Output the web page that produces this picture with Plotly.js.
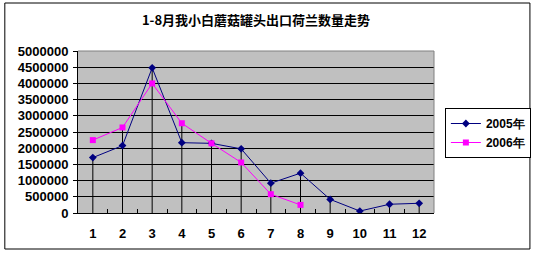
<!DOCTYPE html>
<html><head><meta charset="utf-8">
<script src="https://cdn.plot.ly/plotly-3.0.1.min.js"></script>
<style>html,body{margin:0;padding:0;background:#fff}</style>
</head><body><div id="chart" style="width:543px;height:257px"></div>
<script>
var months = ['1','2','3','4','5','6','7','8','9','10','11','12'];
var s2005 = [1710000, 2080000, 4480000, 2170000, 2150000, 1980000, 920000, 1230000, 420000, 60000, 270000, 300000];
var months2006 = ['1','2','3','4','5','6','7','8'];
var s2006 = [2250000, 2640000, 4000000, 2770000, 2150000, 1560000, 580000, 250000];
var yTicks = [0,500000,1000000,1500000,2000000,2500000,3000000,3500000,4000000,4500000,5000000];

// drop lines: from the 2005 point, or from the 2006 point where it is higher (not for the first month)
var dx = [], dy = [];
months.forEach(function(m, i){
  var v = s2005[i];
  var j = months2006.indexOf(m);
  if (i > 0 && j >= 0 && s2006[j] > v) v = s2006[j];
  dx.push(m, m, null); dy.push(0, v, null);
});

var tf = {family:'Liberation Sans, Arial, sans-serif', size:13, color:'#000', weight:'bold'};
var traces = [
  {x:dx, y:dy, mode:'lines', line:{color:'#000', width:1}, showlegend:false, hoverinfo:'skip'},
  {x:months, y:s2005, name:'2005年', mode:'lines+markers', line:{color:'#000080', width:1},
   marker:{symbol:'diamond', size:6, color:'#000080'}},
  {x:months2006, y:s2006, name:'2006年', mode:'lines+markers', line:{color:'#FF00FF', width:1},
   marker:{symbol:'square', size:6, color:'#FF00FF'}}
];
var layout = {
  width:543, height:257,
  margin:{l:78, r:105, t:51, b:44},
  paper_bgcolor:'#fff', plot_bgcolor:'#C0C0C0',
  font:{family:'Liberation Sans, Arial, sans-serif', size:13, color:'#000'},
  title:{text:'<b>1-8月我小白蘑菇罐头出口荷兰数量走势</b>', font:{family:'Noto Sans CJK SC, sans-serif', size:13, color:'#000'},
         x:0.5, xref:'paper', xanchor:'center', y:1-20/257, yref:'container', yanchor:'middle'},
  xaxis:{type:'category', categoryorder:'array', categoryarray:months, range:[-0.5,11.5],
    showline:true, linecolor:'#000', linewidth:1, showgrid:false, zeroline:false,
    ticks:'inside', tickson:'boundaries', ticklen:4, tickcolor:'#000', ticklabelstandoff:8,
    tickfont:tf, fixedrange:true},
  yaxis:{range:[0,5000000], tickvals:yTicks, tickformat:'d',
    showline:true, linecolor:'#000', linewidth:1, showgrid:true, gridcolor:'#000', gridwidth:1, zeroline:false,
    ticks:'outside', ticklen:4, tickcolor:'#000', ticklabelstandoff:2,
    tickfont:tf, fixedrange:true},
  legend:{x:(449-78)/360, xanchor:'left', y:(213-108)/162, yanchor:'top', bgcolor:'#fff',
    bordercolor:'#000', borderwidth:1, font:{family:'Liberation Sans, Arial, sans-serif', size:12, color:'#000', weight:'bold'},
    tracegroupgap:0, itemwidth:30, itemsizing:'trace'},
  shapes:[
    {type:'line', xref:'paper', yref:'paper', x0:0, x1:1, y0:1, y1:1, line:{color:'#808080', width:1}},
    {type:'line', xref:'paper', yref:'paper', x0:1, x1:1, y0:0, y1:1, line:{color:'#808080', width:1}},
    {type:'rect', xref:'paper', yref:'paper', x0:(4-78)/360, x1:(535-78)/360, y0:(213-249)/162, y1:(213-3)/162,
     line:{color:'#000', width:1}, fillcolor:'rgba(0,0,0,0)'}
  ],
  showlegend:true
};
Plotly.newPlot('chart', traces, layout, {displayModeBar:false, staticPlot:true});
</script></body></html>
